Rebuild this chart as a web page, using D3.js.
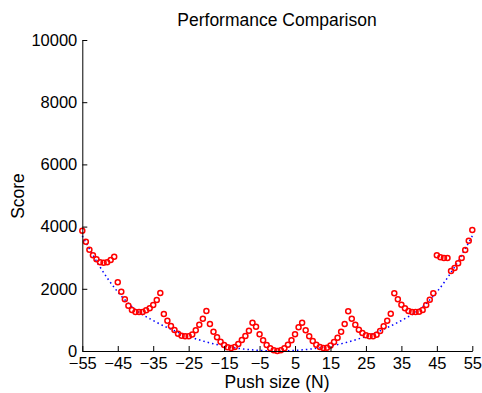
<!DOCTYPE html>
<html>
<head>
<meta charset="utf-8">
<script src="https://cdn.jsdelivr.net/npm/d3@7"></script>
<style>
  html, body { margin: 0; padding: 0; background: #fff; }
  svg { display: block; font-family: "Liberation Sans", Arial, Helvetica, sans-serif; }
</style>
</head>
<body>
<svg id="chart" width="482" height="393"></svg>
<script>
// Push sizes (N) at which each score was measured
const pushSizes = [
  -55, -54, -53, -52, -51, -50, -49, -48, -47, -46,
  -45, -44, -43, -42, -41, -40, -39, -38, -37, -36, -35, -34, -33,
  -32, -31, -30, -29, -28, -27, -26, -25, -24, -23, -22, -21, -20,
  -19, -18, -17, -16, -15, -14, -13, -12, -11, -10, -9, -8, -7,
  -6, -5, -4, -3, -2, -1, 0, 1, 2, 3, 4, 5, 6,
  7, 8, 9, 10, 11, 12, 13, 14, 15, 16, 17, 18, 19,
  20, 21, 22, 23, 24, 25, 26, 27, 28, 29, 30, 31, 32,
  33, 34, 35, 36, 37, 38, 39, 40, 41, 42, 43, 44,
  45, 46, 47, 48, 49, 50, 51, 52, 53, 54, 55
];

// Measured score at each push size (red circles)
const measuredScores = [
  3870, 3514, 3257, 3077, 2949, 2852, 2839, 2852, 2926, 3032,
  2209, 1907, 1662, 1457, 1318, 1254, 1254, 1254, 1309, 1373, 1479, 1640, 1865,
  1190, 974, 804, 675, 556, 492, 473, 473, 530, 665, 846, 1039, 1286,
  868, 621, 440, 300, 193, 119, 96, 130, 225, 354, 482, 653, 910,
  781, 537, 344, 193, 87, 23, 0, 23, 90, 200, 348, 535, 765,
  910, 665, 472, 322, 204, 129, 96, 107, 175, 289, 429, 622, 868,
  1280, 1039, 846, 685, 579, 505, 473, 473, 524, 643, 794, 974, 1199,
  1860, 1662, 1489, 1373, 1286, 1254, 1254, 1264, 1318, 1479, 1650, 1855,
  3077, 3013, 2990, 2990, 2572, 2669, 2820, 2990, 3248, 3547, 3891
];

// Reference curve (blue dotted line)
const referenceSizes = [-55, -50, -45, -40, -35, -30, -25, -20, -15, -10, -5, 0,
                        5, 10, 15, 20, 25, 30, 35, 40, 45, 50, 55];
const referenceScores = [3700, 2700, 1900, 1330, 980, 700, 470, 290, 160, 70, 20, 0,
                         20, 70, 160, 290, 470, 700, 980, 1330, 1900, 2700, 3700];

// Axis ticks and labels
const xTicks = [-55, -45, -35, -25, -15, -5, 5, 15, 25, 35, 45, 55];
const yTicks = [0, 2000, 4000, 6000, 8000, 10000];
const titleText = "Performance Comparison";
const xLabel = "Push size (N)";
const yLabel = "Score";

const svg = d3.select("#chart");
svg.append("rect").attr("width", 482).attr("height", 393).attr("fill", "#fff");

const x = d3.scaleLinear().domain([-55, 55]).range([82.3, 472.3]);
const y = d3.scaleLinear().domain([0, 10000]).range([351, 40]);

// Reference curve
const refLine = d3.line()
  .x((d, i) => x(referenceSizes[i]))
  .y(d => y(d))
  .curve(d3.curveMonotoneX);

svg.append("path")
  .datum(referenceScores)
  .attr("d", refLine)
  .attr("fill", "none")
  .attr("stroke", "#0000ff")
  .attr("stroke-width", 1.5)
  .attr("stroke-dasharray", "1.5,3");

// Measured scores
svg.append("g")
  .selectAll("circle")
  .data(measuredScores)
  .join("circle")
  .attr("cx", (d, i) => x(pushSizes[i]))
  .attr("cy", d => y(d))
  .attr("r", 2.5)
  .attr("fill", "none")
  .attr("stroke", "#ff0000")
  .attr("stroke-width", 1.5);

const fmtX = d => (d < 0 ? "\u2212" + Math.abs(d) : String(d));

// Axes with inward ticks, no box
const xAxis = svg.append("g")
  .attr("transform", "translate(0,351)")
  .call(d3.axisBottom(x).tickValues(xTicks).tickFormat(fmtX)
    .tickSize(-5).tickSizeOuter(0).tickPadding(6));

const yAxis = svg.append("g")
  .attr("transform", "translate(82.3,0)")
  .call(d3.axisLeft(y).tickValues(yTicks).tickFormat(d3.format("d"))
    .tickSize(-5).tickSizeOuter(0).tickPadding(5));

[xAxis, yAxis].forEach(g => {
  g.selectAll("path, line").attr("stroke", "#000").attr("stroke-width", 1);
  g.selectAll("text").attr("fill", "#000").style("font-size", "16.5px");
});

// Title and axis labels
svg.append("text")
  .attr("x", 277).attr("y", 26)
  .attr("text-anchor", "middle")
  .style("font-size", "17.5px")
  .text(titleText);

svg.append("text")
  .attr("x", 277).attr("y", 388)
  .attr("text-anchor", "middle")
  .style("font-size", "17.5px")
  .text(xLabel);

svg.append("text")
  .attr("transform", "translate(24,196) rotate(-90)")
  .attr("text-anchor", "middle")
  .style("font-size", "17.5px")
  .text(yLabel);
</script>
</body>
</html>
